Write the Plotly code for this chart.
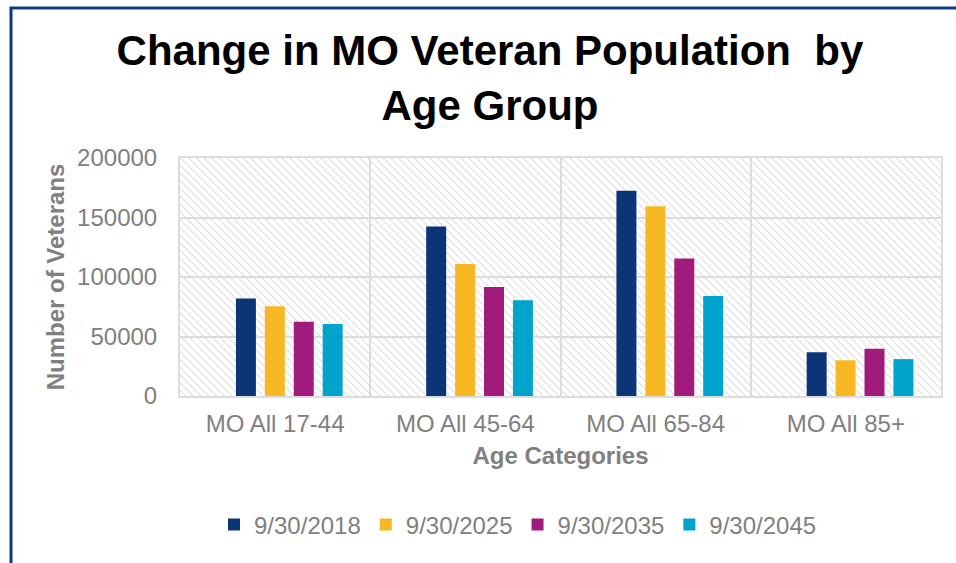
import base64
import plotly.graph_objects as go

categories = ["MO All 17-44", "MO All 45-64", "MO All 65-84", "MO All 85+"]
series_names = ["9/30/2018", "9/30/2025", "9/30/2035", "9/30/2045"]
values_2018 = [82000, 142500, 172500, 36700]
values_2025 = [75500, 111000, 159500, 30000]
values_2035 = [62400, 91500, 115500, 39700]
values_2045 = [60500, 80500, 84000, 31000]
series_values = [values_2018, values_2025, values_2035, values_2045]
colors = ["#0C3578", "#F8B823", "#A01B7B", "#00A3CB"]
y_ticks = [0, 50000, 100000, 150000, 200000]

W, H = 956, 563
L, R, T, B = 180, 15, 158, 167
PW, PH = W - L - R, H - T - B

FONT = "Liberation Sans, Arial, sans-serif"
GRAY = "#808080"
GRID = "#dcdcdc"

# hatch background pattern as an SVG image
svg = (
    f'<svg xmlns="http://www.w3.org/2000/svg" width="{PW}" height="{PH}">'
    '<defs><pattern id="h" width="5.5" height="5.5" patternUnits="userSpaceOnUse" '
    'patternTransform="rotate(-45)">'
    '<rect width="5.5" height="5.5" fill="white"/>'
    '<line x1="0" y1="0" x2="0" y2="5.5" stroke="#dedede" stroke-width="2.2"/>'
    '</pattern></defs>'
    f'<rect width="{PW}" height="{PH}" fill="url(#h)"/></svg>'
)
svg_uri = "data:image/svg+xml;base64," + base64.b64encode(svg.encode()).decode()

fig = go.Figure()
bar_w = 0.105
pitch = 0.152
start = -0.206
for i, (name, vals) in enumerate(zip(series_names, series_values)):
    fig.add_trace(go.Bar(
        x=categories, y=vals, name=name,
        marker=dict(color=colors[i], line=dict(width=0)),
        width=bar_w, offset=start + i * pitch,
    ))

fig.update_layout(
    width=W, height=H,
    margin=dict(l=L, r=R, t=T, b=B, autoexpand=False),
    paper_bgcolor="white",
    plot_bgcolor="rgba(0,0,0,0)",
    barmode="overlay",
    font=dict(family=FONT, color=GRAY),
    title=dict(
        text="Change in MO Veteran Population  by<br>Age Group",
        font=dict(family=FONT, size=42, color="black", weight="bold"),
        xref="container", x=490 / W, xanchor="center",
        yref="container", y=1 - 65 / H, yanchor="top",
    ),
    xaxis=dict(
        type="category", tickson="boundaries",
        showgrid=True, gridcolor=GRID, gridwidth=2,
        showline=True, linecolor=GRID, linewidth=2, mirror=True,
        ticks="", tickfont=dict(size=24, color=GRAY),
        ticklabelstandoff=5,
        title=dict(text="Age Categories", font=dict(size=24, color=GRAY, weight="bold"), standoff=11),
        range=[-0.5, 3.5],
    ),
    yaxis=dict(
        range=[0, 200000], tickvals=y_ticks, tickformat="d",
        showgrid=True, gridcolor=GRID, gridwidth=2,
        showline=True, linecolor=GRID, linewidth=2, mirror=True,
        zeroline=False, ticks="", tickfont=dict(size=24, color=GRAY),
        ticklabelstandoff=16,
        title=dict(text="Number of Veterans", font=dict(size=24, color=GRAY, weight="bold"), standoff=6),
    ),
    legend=dict(
        orientation="h", xref="paper", x=(518 - L) / PW, xanchor="center",
        yref="container", y=1 - 525 / H, yanchor="middle",
        font=dict(size=24, color=GRAY), itemwidth=30,
        bgcolor="rgba(0,0,0,0)",
    ),
    images=[dict(
        source=svg_uri, xref="paper", yref="paper", x=0, y=1,
        sizex=1, sizey=1, sizing="stretch", layer="below",
    )],
    shapes=[dict(
        type="rect", xref="paper", yref="paper",
        x0=(11 - L) / PW, x1=(W + 20 - L) / PW,
        y0=-(H + 20 - T - PH) / PH, y1=1 + (T - 8) / PH,
        line=dict(color="#0B3A80", width=3), fillcolor="rgba(0,0,0,0)", layer="above",
    )],
)

fig.write_html(
    "out.html",
    config={"displayModeBar": False},
    post_script="document.body.style.margin='0';",
)
